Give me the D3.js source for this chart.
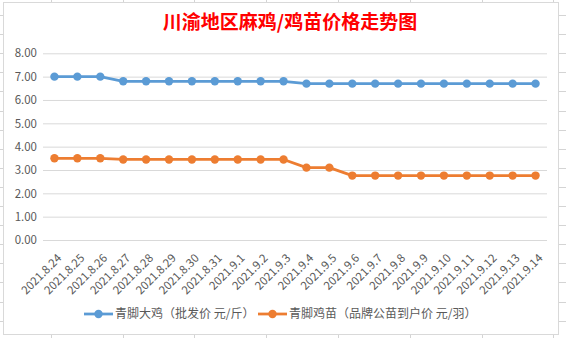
<!DOCTYPE html>
<html>
<head>
<meta charset="utf-8">
<script src="https://cdn.jsdelivr.net/npm/d3@7/dist/d3.min.js"></script>
<style>
  html, body { margin: 0; padding: 0; background: #fff; }
  svg { display: block; }
  text { font-family: "Noto Sans CJK SC", "Noto Sans", sans-serif; }
</style>
</head>
<body>
<script>
const categories = ["2021.8.24","2021.8.25","2021.8.26","2021.8.27","2021.8.28","2021.8.29","2021.8.30","2021.8.31","2021.9.1","2021.9.2","2021.9.3","2021.9.4","2021.9.5","2021.9.6","2021.9.7","2021.9.8","2021.9.9","2021.9.10","2021.9.11","2021.9.12","2021.9.13","2021.9.14"];
const chickenPrice = [7.00,7.00,7.00,6.80,6.80,6.80,6.80,6.80,6.80,6.80,6.80,6.70,6.70,6.70,6.70,6.70,6.70,6.70,6.70,6.70,6.70,6.70];
const chickPrice = [3.50,3.50,3.50,3.45,3.45,3.45,3.45,3.45,3.45,3.45,3.45,3.10,3.10,2.76,2.76,2.76,2.76,2.76,2.76,2.76,2.76,2.76];
const seriesNames = ["青脚大鸡（批发价 元/斤）", "青脚鸡苗（品牌公苗到户价 元/羽）"];
const yTicks = [0,1,2,3,4,5,6,7,8];
const titleText = "川渝地区麻鸡/鸡苗价格走势图";

const W = 566, H = 338;
const colors = ["#5B9BD5", "#ED7D31"];
const svg = d3.select("body").append("svg").attr("width", W).attr("height", H);

// spreadsheet background grid
const gridColor = "#D4D4D4";
const colXs = d3.range(-21, W, 71.8).map(v => Math.round(v) + 0.5);
const rowYs = d3.range(15, H, 19.1).map(v => Math.round(v) + 0.5);
svg.append("g").selectAll("line").data(colXs).join("line")
  .attr("x1", d => d).attr("x2", d => d).attr("y1", 0).attr("y2", H)
  .attr("stroke", gridColor);
svg.append("g").selectAll("line").data(rowYs).join("line")
  .attr("x1", 0).attr("x2", W).attr("y1", d => d).attr("y2", d => d)
  .attr("stroke", gridColor);

// chart area
svg.append("rect").attr("x", 3.5).attr("y", 2.5).attr("width", 555).attr("height", 332)
  .attr("fill", "#fff").attr("stroke", "#D9D9D9");

// title
svg.append("text").attr("x", 290).attr("y", 29).attr("text-anchor", "middle")
  .attr("fill", "#FF0000").attr("font-size", 19).attr("font-weight", 700)
  .text(titleText);

const plotLeft = 43, plotRight = 547, plotTop = 53.3, plotBottom = 240;
const x = d3.scaleBand().domain(categories).range([plotLeft, plotRight]);
const y = d3.scaleLinear().domain([0, 8]).range([plotBottom, plotTop]);
const cx = d => x(d) + x.bandwidth() / 2;

// y axis with gridlines
const yAxis = svg.append("g").attr("transform", `translate(${plotLeft},0)`)
  .call(d3.axisLeft(y).tickValues(yTicks).tickFormat(d3.format(".2f"))
    .tickSize(-(plotRight - plotLeft)).tickPadding(6));
yAxis.select(".domain").remove();
yAxis.selectAll("line").attr("stroke", "#D9D9D9");
yAxis.selectAll("text").attr("fill", "#595959").attr("font-size", 11.5)
  .attr("x", -6);

// x axis labels
const xAxis = svg.append("g").attr("transform", `translate(0,${plotBottom})`)
  .call(d3.axisBottom(x).tickSize(0).tickPadding(0));
xAxis.select(".domain").remove();
xAxis.selectAll("text")
  .attr("fill", "#595959").attr("font-size", 11.5)
  .attr("text-anchor", "end")
  .attr("transform", "translate(5,16) rotate(-45)")
  .attr("x", 0).attr("y", 0).attr("dy", "0.35em");

// series
const allSeries = [chickenPrice, chickPrice];
allSeries.forEach((vals, i) => {
  const data = categories.map((c, j) => ({c, v: vals[j]}));
  svg.append("path").datum(data)
    .attr("fill", "none").attr("stroke", colors[i]).attr("stroke-width", 2.75)
    .attr("stroke-linejoin", "round")
    .attr("d", d3.line().x(d => cx(d.c)).y(d => y(d.v)));
  svg.append("g").selectAll("circle").data(data).join("circle")
    .attr("cx", d => cx(d.c)).attr("cy", d => y(d.v)).attr("r", 4.2)
    .attr("fill", colors[i]);
});

// legend
const legendY = 314;
const legendItems = [
  {x1: 84, x2: 113, tx: 115},
  {x1: 258, x2: 287, tx: 289}
];
legendItems.forEach((it, i) => {
  svg.append("line").attr("x1", it.x1).attr("x2", it.x2).attr("y1", legendY).attr("y2", legendY)
    .attr("stroke", colors[i]).attr("stroke-width", 2.75);
  svg.append("circle").attr("cx", (it.x1 + it.x2) / 2).attr("cy", legendY).attr("r", 4.2)
    .attr("fill", colors[i]);
  svg.append("text").attr("x", it.tx).attr("y", legendY).attr("dy", "0.36em")
    .attr("fill", "#595959").attr("font-size", 12).text(seriesNames[i]);
});
</script>
</body>
</html>
